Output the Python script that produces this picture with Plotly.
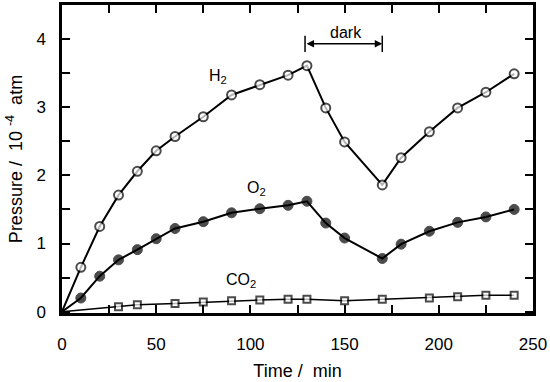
import plotly.graph_objects as go

time_h2 = [0, 10, 20, 30, 40, 50, 60, 75, 90, 105, 120, 130, 140, 150, 170, 180, 195, 210, 225, 240]
h2 = [0, 0.65, 1.25, 1.71, 2.06, 2.36, 2.57, 2.86, 3.18, 3.33, 3.47, 3.61, 2.99, 2.49, 1.86, 2.26, 2.64, 2.99, 3.22, 3.49]

time_o2 = [0, 10, 20, 30, 40, 50, 60, 75, 90, 105, 120, 130, 140, 150, 170, 180, 195, 210, 225, 240]
o2 = [0, 0.20, 0.52, 0.76, 0.91, 1.07, 1.22, 1.32, 1.45, 1.51, 1.56, 1.62, 1.30, 1.08, 0.78, 0.99, 1.18, 1.31, 1.39, 1.50]

time_co2 = [0, 30, 40, 60, 75, 90, 105, 120, 130, 150, 170, 195, 210, 225, 240]
co2 = [0, 0.07, 0.10, 0.12, 0.14, 0.16, 0.17, 0.18, 0.18, 0.16, 0.18, 0.20, 0.22, 0.24, 0.24]

x_ticks = list(range(0, 251, 25))
x_labels = [str(v) if v % 50 == 0 else "" for v in x_ticks]
y_ticks = [i * 0.5 for i in range(10)]
y_labels = [str(int(v)) if v == int(v) else "" for v in y_ticks]

dark_start, dark_end, dark_y = 129, 170, 3.93

def sizes(xs, s):
    return [0 if v == 0 else s for v in xs]

fig = go.Figure()
fig.add_trace(go.Scatter(
    x=time_h2, y=h2, mode="lines+markers",
    line=dict(color="black", width=2),
    marker=dict(symbol="circle", size=sizes(time_h2, 9), color="white",
                line=dict(color="black", width=2)),
    showlegend=False))
fig.add_trace(go.Scatter(
    x=time_o2, y=o2, mode="lines+markers",
    line=dict(color="black", width=2),
    marker=dict(symbol="circle", size=sizes(time_o2, 10), color="black",
                line=dict(color="black", width=1)),
    showlegend=False))
fig.add_trace(go.Scatter(
    x=time_co2, y=co2, mode="lines+markers",
    line=dict(color="black", width=1.5),
    marker=dict(symbol="square", size=sizes(time_co2, 7), color="white",
                line=dict(color="black", width=2)),
    showlegend=False))

font = dict(family="Liberation Sans, Arial, sans-serif", size=17, color="black")
tfont = dict(family="Liberation Sans, Arial, sans-serif", size=18, color="black")
afont = dict(family="Liberation Sans, Arial, sans-serif", size=16, color="black")

fig.add_annotation(x=83, y=3.45, text="H<sub>2</sub>", showarrow=False, font=afont)
fig.add_annotation(x=103, y=1.8, text="O<sub>2</sub>", showarrow=False, font=afont)
fig.add_annotation(x=95, y=0.45, text="CO<sub>2</sub>", showarrow=False, font=afont)
fig.add_annotation(x=(dark_start + dark_end) / 2 + 1, y=4.1, text="dark", showarrow=False, font=afont)
fig.add_annotation(x=dark_end, y=dark_y, ax=dark_start, ay=dark_y, axref="x", ayref="y",
                   xref="x", yref="y", text="", showarrow=True, arrowhead=2,
                   arrowside="end+start", arrowsize=1, arrowwidth=1.5, arrowcolor="black",
                   standoff=0, startstandoff=0)
for xv in (dark_start, dark_end):
    fig.add_shape(type="line", x0=xv, x1=xv, y0=dark_y - 0.12, y1=dark_y + 0.12,
                  xref="x", yref="y", line=dict(color="black", width=1.5))

fig.update_xaxes(range=[0, 250], tickvals=x_ticks, ticktext=x_labels,
                 ticks="inside", ticklen=8, tickwidth=1.5, tickcolor="black",
                 showline=True, linewidth=2.5, linecolor="black", mirror="ticks",
                 showgrid=False, zeroline=False, tickfont=font, automargin=False,
                 ticklabelstandoff=14,
                 title=dict(text="Time /  min", font=tfont, standoff=12))
fig.update_yaxes(range=[-0.02, 4.5], tickvals=y_ticks, ticktext=y_labels,
                 ticks="inside", ticklen=8, tickwidth=1.5, tickcolor="black",
                 showline=True, linewidth=2.5, linecolor="black", mirror="ticks",
                 showgrid=False, zeroline=False, tickfont=font, automargin=False,
                 ticklabelstandoff=10,
                 title=dict(text="Pressure /  10 <sup>-4</sup>  atm", font=tfont, standoff=10))

fig.update_layout(width=550, height=382, margin=dict(l=62, r=17, t=5, b=69),
                  plot_bgcolor="white", paper_bgcolor="white", font=font)
fig.write_html("out.html", config={"displayModeBar": False},
               post_script="document.body.style.margin='0';")
